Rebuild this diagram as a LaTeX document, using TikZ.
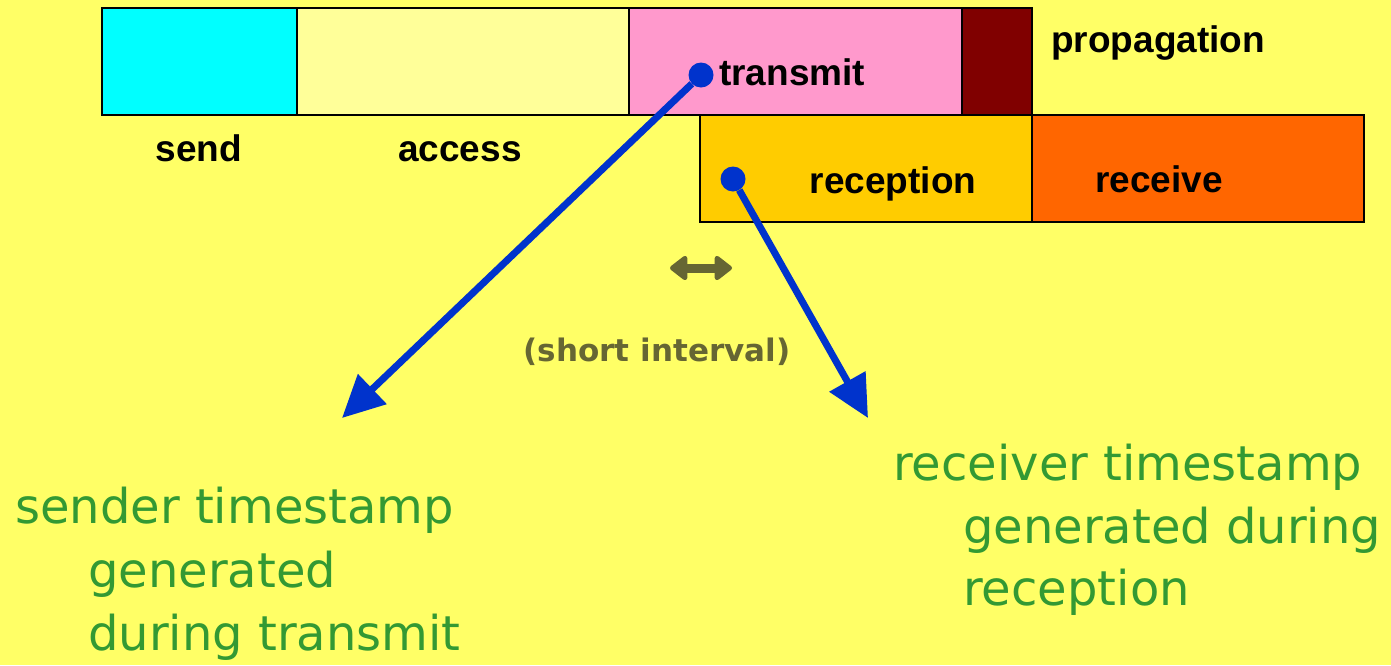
\documentclass[tikz,border=0pt]{standalone}
\usepackage{fontspec}
\setmainfont{Liberation Sans}
\newfontfamily\handfont{DejaVu Sans}
\usetikzlibrary{calc}
\usetikzlibrary{arrows.meta}

\definecolor{bgyellow}{HTML}{FFFF66}
\definecolor{sendcyan}{HTML}{00FFFF}
\definecolor{accessyellow}{HTML}{FFFF99}
\definecolor{txpink}{HTML}{FF99CC}
\definecolor{propred}{HTML}{800000}
\definecolor{rxgold}{HTML}{FFCC00}
\definecolor{recvorange}{HTML}{FF6600}
\definecolor{tsblue}{HTML}{0033CC}
\definecolor{ivolive}{HTML}{666633}
\definecolor{notegreen}{HTML}{339933}

\tikzset{
  phase/.style={draw=black,line width=1.5pt,minimum height=107pt,inner sep=0pt,outer sep=0pt,anchor=north west},
  phaselabel/.style={font=\fontsize{37}{42}\selectfont\bfseries,inner sep=0pt,anchor=base},
  tsdot/.style={circle,fill=tsblue,minimum size=25pt,inner sep=0pt},
  tsarrow/.style={tsblue,line width=7pt,-{Triangle[length=42pt,width=40pt]}},
  ivarrow/.style={ivolive,line width=9pt,{Triangle[length=19pt,width=28pt,round]}-{Triangle[length=19pt,width=28pt,round]}},
  note/.style={font=\handfont\fontsize{48}{63}\selectfont,text=notegreen,inner sep=0pt,anchor=base west}
}

\begin{document}
\begin{tikzpicture}[x=1pt,y=-1pt]

\fill[bgyellow] (0,0) rectangle (1391,665);
\useasboundingbox (0,0) rectangle (1391,665);

\node[phase,fill=sendcyan,minimum width=195pt] (send) at (102,8) {};
\node[phase,fill=accessyellow,minimum width=332pt] (access) at (send.north east) {};
\node[phase,fill=txpink,minimum width=333pt] (transmit) at (access.north east) {};
\node[phase,fill=propred,minimum width=70pt] (prop) at (transmit.north east) {};
\node[phase,fill=rxgold,minimum width=332pt] (reception) at (700,115) {};
\node[phase,fill=recvorange,minimum width=332pt] (receive) at (reception.north east) {};

\node[phaselabel] (sendlbl) at (199,161) {send};
\node[phaselabel] (accesslbl) at (460,161) {access};
\node[phaselabel,anchor=base west] (proplbl) at (1051,52) {propagation};
\node[phaselabel,anchor=base west] (txlbl) at (719,85) {transmit};
\node[phaselabel] (rxlbl) at (893,193) {reception};
\node[phaselabel] (recvlbl) at (1159,192) {receive};

\node[tsdot] (txdot) at (701,75) {};
\node[tsdot] (rxdot) at (733,179) {};
\coordinate (sendtip) at (342,418);
\coordinate (recvtip) at (868,418);
\draw[tsarrow] (txdot) -- (sendtip);
\draw[tsarrow] (rxdot) -- (recvtip);

\coordinate (ivleft) at (670,268);
\coordinate (ivright) at (732,268);
\draw[ivarrow] (ivleft) -- (ivright);
\node[font=\handfont\bfseries\fontsize{31}{36}\selectfont,text=ivolive] (ivlbl) at (657,352) {(short interval)};

\node[note] (sendnoteA) at (15,523) {sender timestamp};
\node[note] (sendnoteB) at (88,587) {generated};
\node[note] (sendnoteC) at (88,650) {during transmit};

\node[note] (recvnoteA) at (893,480) {receiver timestamp};
\node[note] (recvnoteB) at (963,543) {generated during};
\node[note] (recvnoteC) at (963,605) {reception};

\end{tikzpicture}
\end{document}
